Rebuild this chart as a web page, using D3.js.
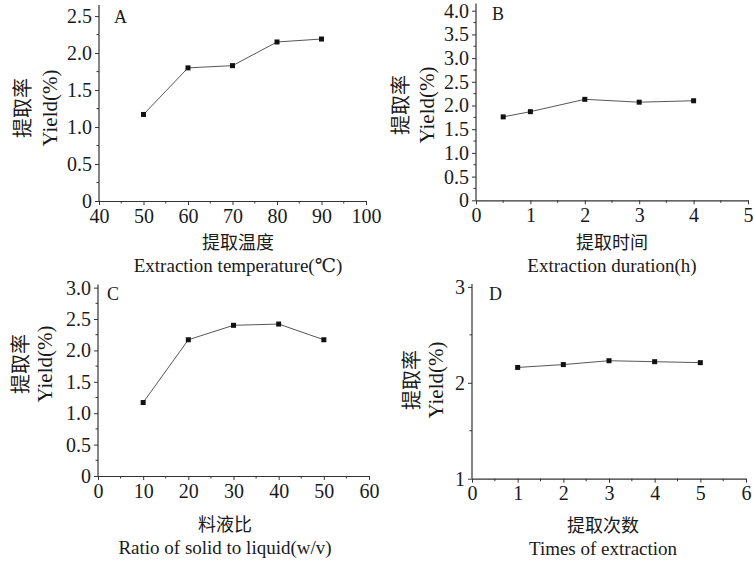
<!DOCTYPE html>
<html>
<head>
<meta charset="utf-8">
<script src="https://cdn.jsdelivr.net/npm/d3@7"></script>
<style>
  body { margin: 0; background: #fff; }
  svg text { fill: #1a1a1a; }
  .lat { font-family: "Liberation Serif", "DejaVu Serif", serif; }
  .cjk { font-family: "Noto Sans CJK SC", sans-serif; }
</style>
</head>
<body>
<svg class="chart"></svg>
<script>
// A: extraction temperature
var tempX = [50, 60, 70, 80, 90];
var tempY = [1.17, 1.80, 1.83, 2.15, 2.19];
// B: extraction duration
var timeX = [0.5, 1, 2, 3, 4];
var timeY = [1.76, 1.87, 2.13, 2.07, 2.10];
// C: solid-liquid ratio
var ratioX = [10, 20, 30, 40, 50];
var ratioY = [1.17, 2.17, 2.40, 2.42, 2.17];
// D: times of extraction
var timesX = [1, 2, 3, 4, 5];
var timesY = [2.16, 2.19, 2.23, 2.22, 2.21];

var yLabelCn = "提取率";
var yLabelEn = "Yield(%)";

function show() {
    'use strict';
    var svg = d3.select(".chart").attr("width", 754).attr("height", 562);

    var panels = [
        {letter: "A", xs: tempX, ys: tempY, xDom: [40, 100], xRange: [99, 366], xStep: 10,
         yDom: [0, 2.65], yRange: [201, 5], yTicks: d3.range(0, 2.51, 0.5), yMinor: 0.25, yFmt: "f1",
         letterPos: [114, 23], yLab: [22, 50, 108], xLab: [238, 249, 272],
         cn: "提取温度", en: "Extraction temperature(℃)"},
        {letter: "B", xs: timeX, ys: timeY, xDom: [0, 5], xRange: [476, 748], xStep: 1,
         yDom: [0, 4.15], yRange: [200.3, 3.6], yTicks: d3.range(0, 4.01, 0.5), yMinor: 0.25, yFmt: "f1",
         letterPos: [492, 20], yLab: [400, 427, 105], xLab: [612, 249, 272],
         cn: "提取时间", en: "Extraction duration(h)"},
        {letter: "C", xs: ratioX, ys: ratioY, xDom: [0, 60], xRange: [98, 369], xStep: 10,
         yDom: [0, 3.05], yRange: [476, 284.5], yTicks: d3.range(0, 3.01, 0.5), yMinor: 0.25, yFmt: "f1",
         letterPos: [107, 300], yLab: [20, 45, 364], xLab: [225, 531, 554],
         cn: "料液比", en: "Ratio of solid to liquid(w/v)"},
        {letter: "D", xs: timesX, ys: timesY, xDom: [0, 6], xRange: [472, 746], xStep: 1,
         yDom: [1, 3.03], yRange: [478.7, 284], yTicks: [1, 2, 3], yMinor: 0.5, yFmt: "d",
         letterPos: [489, 300], yLab: [411, 436, 380], xLab: [603, 532, 555],
         cn: "提取次数", en: "Times of extraction"}
    ];

    panels.forEach(function(p) { drawPanel(p); });

    function drawPanel(p) {
        var x = d3.scaleLinear().domain(p.xDom).range(p.xRange);
        var y = d3.scaleLinear().domain(p.yDom).range(p.yRange);
        var g = svg.append("g");
        var axisColor = "#333";
        var x0 = p.xRange[0], yBase = p.yRange[0];

        // minor ticks
        var xMinor = d3.range(p.xDom[0] + p.xStep / 2, p.xDom[1], p.xStep);
        g.selectAll(".xm").data(xMinor).enter().append("line")
            .attr("x1", x).attr("x2", x).attr("y1", yBase).attr("y2", yBase + 2.5)
            .attr("stroke", axisColor).attr("stroke-width", 1);
        var yMinor = d3.range(p.yDom[0] + p.yMinor, p.yDom[1], p.yMinor * 2);
        g.selectAll(".ym").data(yMinor).enter().append("line")
            .attr("y1", y).attr("y2", y).attr("x1", x0).attr("x2", x0 - 2.5)
            .attr("stroke", axisColor).attr("stroke-width", 1);

        // axes
        var xAxis = d3.axisBottom(x).tickValues(d3.range(p.xDom[0], p.xDom[1] + 0.001, p.xStep))
            .tickSize(4).tickPadding(2).tickSizeOuter(0).tickFormat(d3.format("d"));
        var ya = g.append("g").attr("transform", "translate(0," + yBase + ")").call(xAxis);
        var yAxis = d3.axisLeft(y).tickValues(p.yTicks).tickSize(4).tickPadding(3).tickSizeOuter(0)
            .tickFormat(function(d) { return p.yFmt === "d" ? d3.format("d")(d) : (d === 0 ? "0" : d3.format(".1f")(d)); });
        var yb = g.append("g").attr("transform", "translate(" + x0 + ",0)").call(yAxis);

        [ya, yb].forEach(function(a) {
            a.select(".domain").attr("stroke", axisColor).attr("stroke-width", 1.2);
            a.selectAll(".tick line").attr("stroke", axisColor).attr("stroke-width", 1);
            a.selectAll(".tick text").attr("class", "lat").attr("font-size", 20).attr("fill", "#1a1a1a");
        });
        // y axis extends to the top of range
        yb.select(".domain").attr("d", "M0," + p.yRange[0] + "V" + p.yRange[1]);
        ya.selectAll(".tick text").attr("dy", "0.78em");

        // line and markers
        var pts = p.xs.map(function(v, i) { return [x(v), y(p.ys[i])]; });
        g.append("path").attr("d", d3.line()(pts))
            .attr("fill", "none").attr("stroke", "#444").attr("stroke-width", 0.9);
        g.selectAll(".pt").data(pts).enter().append("rect")
            .attr("x", function(d) { return d[0] - 2.5; })
            .attr("y", function(d) { return d[1] - 2.5; })
            .attr("width", 5).attr("height", 5).attr("fill", "#111");

        // panel letter
        g.append("text").attr("class", "lat").attr("x", p.letterPos[0]).attr("y", p.letterPos[1])
            .attr("font-size", 18).text(p.letter);

        // y labels
        g.append("text").attr("class", "cjk")
            .attr("transform", "translate(" + p.yLab[0] + "," + p.yLab[2] + ") rotate(-90)")
            .attr("text-anchor", "middle").attr("dy", "0.38em").attr("font-size", 20).text(yLabelCn);
        g.append("text").attr("class", "lat")
            .attr("transform", "translate(" + p.yLab[1] + "," + p.yLab[2] + ") rotate(-90)")
            .attr("text-anchor", "middle").attr("dy", "0.32em").attr("font-size", 21).text(yLabelEn);

        // x labels
        g.append("text").attr("class", "cjk").attr("x", p.xLab[0]).attr("y", p.xLab[1])
            .attr("text-anchor", "middle").attr("font-size", 18).text(p.cn);
        g.append("text").attr("class", "lat").attr("x", p.xLab[0]).attr("y", p.xLab[2])
            .attr("text-anchor", "middle").attr("font-size", 19).text(p.en);
    }
}
show();
</script>
</body>
</html>
